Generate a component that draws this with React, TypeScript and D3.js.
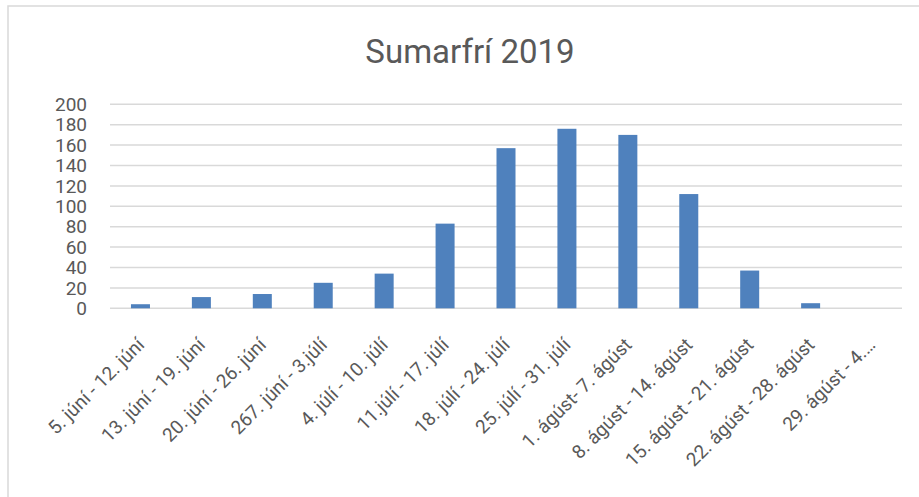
import React from 'react';
import * as d3 from 'd3';

const title = 'Sumarfrí 2019';

const weeks = [
  '5. júní - 12. júní',
  '13. júní - 19. júní',
  '20. júní - 26. júní',
  '267. júní - 3.júlí',
  '4. júlí - 10. júlí',
  '11.júlí - 17. júlí',
  '18. júlí - 24. júlí',
  '25. júlí - 31. júlí',
  '1. ágúst- 7. ágúst',
  '8. ágúst - 14. ágúst',
  '15. ágúst - 21. ágúst',
  '22. ágúst - 28. ágúst',
  '29. ágúst - 4.…',
];

const counts = [4, 11, 14, 25, 34, 83, 157, 176, 170, 112, 37, 5, 0];

const yTicks = [0, 20, 40, 60, 80, 100, 120, 140, 160, 180, 200];

export default function App() {
  const width = 919;
  const height = 497;
  const margin = { top: 104.3, right: 17, bottom: 188.7, left: 110 };
  const font = 'Roboto, "Open Sans", sans-serif';
  const textColor = '#595959';

  const x = d3.scaleBand<string>()
    .domain(weeks)
    .range([margin.left, width - margin.right])
    .paddingInner(0.688)
    .paddingOuter(0.344);

  const y = d3.scaleLinear()
    .domain([0, 200])
    .range([height - margin.bottom, margin.top]);

  return (
    <svg
      width={width}
      height={height}
      style={{ position: 'absolute', left: 0, top: 0, background: '#fff' }}
      fontFamily={font}
    >
      {/* chart area border, cut off at right and bottom like the screenshot */}
      <rect x={8} y={6} width={width + 10} height={height + 10} fill="none" stroke="#d9d9d9" strokeWidth={1.5} />

      <text x={470} y={62.5} textAnchor="middle" fontSize={33} fill={textColor}>{title}</text>

      {/* gridlines */}
      <g>
        {yTicks.map(t => (
          <line key={t} x1={margin.left} x2={width - margin.right} y1={y(t)} y2={y(t)} stroke="#d9d9d9" strokeWidth={1.5} />
        ))}
      </g>

      {/* y labels */}
      <g fontSize={19} fill={textColor} textAnchor="end">
        {yTicks.map(t => (
          <text key={t} x={87} y={y(t)} dy="0.35em">{t}</text>
        ))}
      </g>

      {/* bars */}
      <g fill="#4f81bd">
        {weeks.map((w, i) => (
          counts[i] > 0 ? (
            <rect key={w} x={x(w)} y={y(counts[i])} width={x.bandwidth()} height={y(0) - y(counts[i])} />
          ) : null
        ))}
      </g>

      {/* x labels */}
      <g fontSize={19} fill={textColor} textAnchor="end">
        {weeks.map(w => {
          const cx = (x(w) ?? 0) + x.bandwidth() / 2;
          return (
            <text key={w} transform={`translate(${cx + 5},346) rotate(-45)`}>{w}</text>
          );
        })}
      </g>
    </svg>
  );
}
